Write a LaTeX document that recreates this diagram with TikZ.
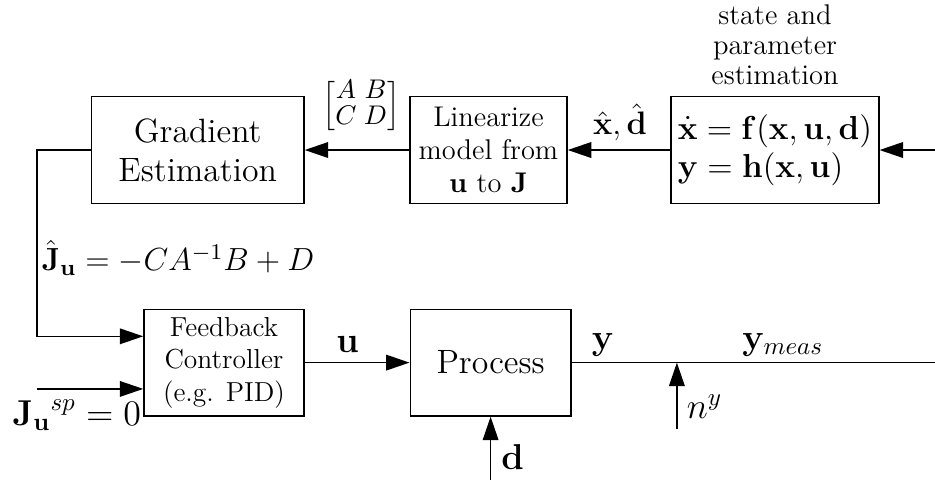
\documentclass[tikz,border=0pt]{standalone}
\usepackage{fix-cm}
\usepackage{amsmath}
\usetikzlibrary{arrows.meta,positioning}
\begin{document}
\begin{tikzpicture}[
  every node/.style={font=\fontsize{11}{13}\selectfont},
  block/.style={draw, semithick, minimum height=1.5cm, align=center, inner sep=1pt},
  big/.style={font=\fontsize{13.5}{15.6}\selectfont},
  lbl/.style={font=\fontsize{14.4}{16}\selectfont},
  mid/.style={font=\fontsize{13.3}{15.2}\selectfont},
  sig/.style={semithick, -{Triangle[length=3.3mm,width=2.2mm]}},
  wire/.style={semithick}
]
\useasboundingbox (0,0) rectangle (13.15,6.75);
% upper row
\node[block, big, minimum width=2.99cm] (grad) at (2.78,4.64) {Gradient\\Estimation};
\node[block, font=\fontsize{11.4}{13.2}\selectfont, minimum width=2.21cm] (lin) at (6.87,4.64) {Linearize\\model from\\$\mathbf{u}$ to $\mathbf{J}$};
\node[block, mid, align=left, minimum width=2.92cm] (est) at (10.9,4.64) {$\dot{\mathbf{x}} = \mathbf{f}(\mathbf{x},\mathbf{u},\mathbf{d})$\\$\mathbf{y} = \mathbf{h}(\mathbf{x},\mathbf{u})$};
\node[above=1pt of est, align=center, font=\fontsize{11.4}{12}\selectfont] (esttxt) {state and\\parameter\\estimation};
\coordinate (meas) at (13.15,4.64);
\coordinate (fbk) at (0.52,4.64);
\draw[sig] (meas) -- (est);
\draw[sig] (est) -- (lin);
\draw[sig] (lin) -- (grad);
\node[font=\fontsize{13}{15}\selectfont] (xd) at (8.72,5.03) {$\hat{\mathbf{x}},\hat{\mathbf{d}}$};
\node[font=\fontsize{10.8}{12.5}\selectfont] (abcd) at (5.08,5.26) {\renewcommand\arraystretch{0.8}$\left[\begin{array}{@{}c@{\;}c@{}}A & B\\ C & D\end{array}\right]$};
\node[font=\fontsize{12.8}{15}\selectfont, anchor=west] (jhat) at (0.46,3.12) {$\hat{\mathbf{J}}_{\mathbf{u}} = -CA^{-1}B + D$};
% lower row
\node[block, minimum width=2.25cm] (fb) at (3.15,1.65) {Feedback\\Controller\\(e.g. PID)};
\node[block, big, minimum width=2.26cm] (proc) at (6.9,1.65) {Process};
\coordinate (ref) at (0.52,1.28);
\coordinate (din) at (6.9,0);
\coordinate (out) at (13.15,1.65);
\coordinate (ny) at (9.52,0.72);
\coordinate (sum) at (9.52,1.65);
\draw[sig] (grad.west) -- (fbk) |- ([yshift=3.7mm]fb.west);
\draw[sig] (ref) -- (ref -| fb.west);
\draw[sig] (fb) -- (proc);
\draw[sig] (din) -- (din |- proc.south);
\draw[wire] (proc) -- (out);
\draw[sig] (ny) -- (sum);
\node[lbl, anchor=west] (jsp) at (0.05,0.91) {${\mathbf{J}_{\mathbf{u}}}^{sp} = 0$};
\node[lbl] (ul) at (4.89,1.9) {$\mathbf{u}$};
\node[lbl] (dl) at (7.21,0.32) {$\mathbf{d}$};
\node[lbl] (yl) at (8.48,1.9) {$\mathbf{y}$};
\node[lbl] (yml) at (11.01,1.9) {$\mathbf{y}_{meas}$};
\node[lbl] (nyl) at (9.91,1.03) {$n^y$};
\end{tikzpicture}
\end{document}
